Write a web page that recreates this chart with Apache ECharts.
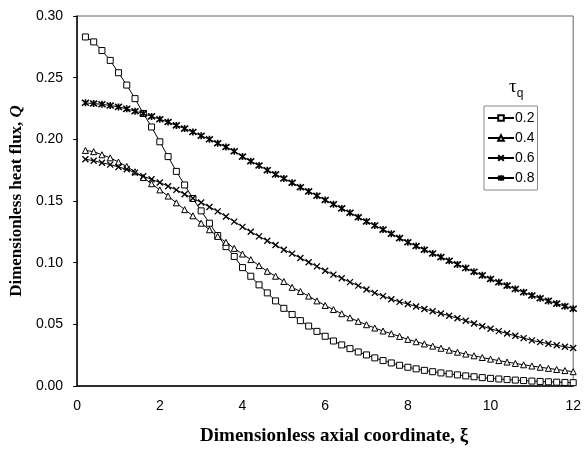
<!DOCTYPE html>
<html>
<head>
<meta charset="utf-8">
<script src="https://cdn.jsdelivr.net/npm/echarts@6/dist/echarts.min.js"></script>
<style>
  html, body { margin: 0; padding: 0; background: #fff; }
  #chart { width: 584px; height: 451px; }
</style>
</head>
<body>
<div id="chart"></div>
<script>
// Axial coordinate samples
const xi = [
  0.2, 0.4, 0.6, 0.8, 1.0, 1.2, 1.4, 1.6, 1.8, 2.0,
  2.2, 2.4, 2.6, 2.8, 3.0, 3.2, 3.4, 3.6, 3.8, 4.0,
  4.2, 4.4, 4.6, 4.8, 5.0, 5.2, 5.4, 5.6, 5.8, 6.0,
  6.2, 6.4, 6.6, 6.8, 7.0, 7.2, 7.4, 7.6, 7.8, 8.0,
  8.2, 8.4, 8.6, 8.8, 9.0, 9.2, 9.4, 9.6, 9.8, 10.0,
  10.2, 10.4, 10.6, 10.8, 11.0, 11.2, 11.4, 11.6, 11.8, 12.0
];

// Heat flux Q for each relaxation time tau_q
const q02 = [
  0.283, 0.279, 0.272, 0.264, 0.254, 0.244, 0.233, 0.221, 0.210, 0.198,
  0.186, 0.174, 0.163, 0.152, 0.142, 0.132, 0.122, 0.113, 0.105, 0.096,
  0.089, 0.082, 0.0755, 0.069, 0.063, 0.058, 0.053, 0.0486, 0.0443, 0.0403,
  0.0365, 0.0333, 0.0303, 0.0276, 0.0252, 0.0228, 0.0206, 0.0187, 0.0168, 0.0152,
  0.0139, 0.0127, 0.0116, 0.0106, 0.0098, 0.0090, 0.0082, 0.0075, 0.0068, 0.0062,
  0.0057, 0.0052, 0.0048, 0.0044, 0.0040, 0.0037, 0.0034, 0.0031, 0.0029, 0.0027
];
const q04 = [
  0.191, 0.190, 0.1875, 0.185, 0.1816, 0.178, 0.1737, 0.169, 0.164, 0.159,
  0.154, 0.1485, 0.143, 0.138, 0.132, 0.1267, 0.1213, 0.1165, 0.1116, 0.107,
  0.1025, 0.0976, 0.093, 0.089, 0.0847, 0.080, 0.0766, 0.0729, 0.069, 0.0653,
  0.062, 0.0586, 0.0553, 0.0524, 0.0497, 0.047, 0.0446, 0.0424, 0.0402, 0.0378,
  0.0359, 0.0341, 0.0323, 0.0306, 0.029, 0.0274, 0.0259, 0.0245, 0.0231, 0.0218,
  0.0206, 0.0194, 0.0183, 0.0172, 0.0162, 0.0152, 0.0143, 0.0134, 0.0125, 0.0116
];
const q06 = [
  0.1838, 0.1827, 0.181, 0.1795, 0.1776, 0.1757, 0.173, 0.170, 0.1676, 0.165,
  0.162, 0.159, 0.1555, 0.1522, 0.1488, 0.1452, 0.1416, 0.1375, 0.1333, 0.1290,
  0.125, 0.1213, 0.1178, 0.1143, 0.1105, 0.1073, 0.1038, 0.1003, 0.097, 0.0935,
  0.0903, 0.0874, 0.0842, 0.0814, 0.0782, 0.0755, 0.0729, 0.0703, 0.0682, 0.0665,
  0.0645, 0.0625, 0.0606, 0.0588, 0.0570, 0.0550, 0.0529, 0.0507, 0.0485, 0.0464,
  0.0445, 0.0426, 0.0407, 0.0388, 0.0370, 0.0356, 0.0343, 0.0330, 0.0318, 0.0308
];
const q08 = [
  0.2296, 0.229, 0.2284, 0.2274, 0.2263, 0.2247, 0.2228, 0.2210, 0.2186, 0.2163,
  0.2140, 0.2113, 0.2087, 0.2059, 0.2029, 0.2000, 0.1968, 0.1938, 0.1903, 0.1860,
  0.1822, 0.1788, 0.1750, 0.1716, 0.1683, 0.1648, 0.1612, 0.1578, 0.1543, 0.1508,
  0.1474, 0.1440, 0.1405, 0.1368, 0.1334, 0.1302, 0.1268, 0.1234, 0.1199, 0.1166,
  0.1135, 0.1105, 0.1075, 0.1045, 0.1016, 0.0986, 0.0956, 0.0926, 0.0897, 0.0868,
  0.0841, 0.0814, 0.0787, 0.0760, 0.0734, 0.0712, 0.0690, 0.0668, 0.0647, 0.0626
];

const seriesNames = ['0.2', '0.4', '0.6', '0.8'];
const xTicks = [0, 2, 4, 6, 8, 10, 12];

const SANS = '"Liberation Sans", Arial, sans-serif';
const SERIF = '"Liberation Serif", "Times New Roman", serif';

const crossPath = 'path://M0,0L10,10M10,0L0,10';
const starPath = 'path://M0,0L10,10M10,0L0,10M5,-1L5,11';

function pairs(ys) {
  return xi.map((x, i) => [x, ys[i]]);
}

function makeSeries(name, ys, symbol, size, bw) {
  return {
    name: name,
    type: 'line',
    data: pairs(ys),
    symbol: symbol,
    symbolSize: size,
    showAllSymbol: true,
    animation: false,
    lineStyle: { color: '#000', width: 1 },
    itemStyle: { color: symbol.startsWith('path') ? 'none' : '#fff', borderColor: '#000', borderWidth: bw },
    emphasis: { disabled: true }
  };
}

const chart = echarts.init(document.getElementById('chart'), null, { renderer: 'canvas' });

chart.setOption({
  backgroundColor: '#fff',
  animation: false,
  grid: {
    left: 76, right: 7, top: 16, bottom: 64,
    show: true, borderColor: '#666', borderWidth: 1, backgroundColor: 'transparent'
  },
  xAxis: {
    type: 'value',
    min: 0, max: 12, interval: 2,
    name: 'Dimensionless axial coordinate, ξ',
    nameLocation: 'middle',
    nameGap: 41,
    nameTextStyle: { fontFamily: SERIF, fontWeight: 'bold', fontSize: 19, color: '#000', padding: [0, 0, 0, 18] },
    axisLine: { show: true, onZero: false, lineStyle: { color: '#000', width: 1.5 } },
    axisTick: { show: false },
    splitLine: { show: false },
    axisLabel: {
      color: '#000', fontFamily: SANS, fontSize: 14, margin: 13,
      formatter: v => (xTicks.includes(v) ? String(v) : '')
    }
  },
  yAxis: {
    type: 'value',
    min: 0, max: 0.30, interval: 0.05,
    name: '{t|Dimensionless heat flux, }{q|Q}',
    nameLocation: 'middle',
    nameRotate: 90,
    nameGap: 48,
    nameTextStyle: {
      rich: {
        t: { fontFamily: SERIF, fontWeight: 'bold', fontSize: 17, color: '#000' },
        q: { fontFamily: SERIF, fontWeight: 'bold', fontStyle: 'italic', fontSize: 17, color: '#000' }
      }
    },
    axisLine: { show: true, onZero: false, lineStyle: { color: '#000', width: 1.5 } },
    axisTick: { show: true, inside: false, length: 4, lineStyle: { color: '#000' } },
    splitLine: { show: false },
    axisLabel: {
      color: '#000', fontFamily: SANS, fontSize: 14, margin: 14,
      formatter: v => v.toFixed(2)
    }
  },
  legend: {
    orient: 'vertical',
    left: 484, top: 106,
    padding: [5, 3, 5, 3],
    itemGap: 6,
    itemWidth: 26,
    itemHeight: 7,
    borderColor: '#888',
    borderWidth: 1,
    backgroundColor: '#fff',
    textStyle: { color: '#000', fontFamily: SANS, fontSize: 14, padding: [0, 0, 0, -4] },
    data: seriesNames
  },
  graphic: [{
    type: 'text',
    left: 509, top: 78,
    style: {
      text: '{a|τ}{b|q}',
      rich: {
        a: { fontFamily: SERIF, fontSize: 19, fill: '#000', verticalAlign: 'bottom' },
        b: { fontFamily: SANS, fontSize: 12, fill: '#000', verticalAlign: 'bottom', padding: [0, 0, -3, 0] }
      }
    }
  }],
  series: [
    makeSeries(seriesNames[0], q02, 'rect', 6, 1),
    makeSeries(seriesNames[1], q04, 'triangle', 6, 1),
    makeSeries(seriesNames[2], q06, crossPath, 6, 1.3),
    makeSeries(seriesNames[3], q08, starPath, 7, 1.6)
  ]
});
</script>
</body>
</html>
